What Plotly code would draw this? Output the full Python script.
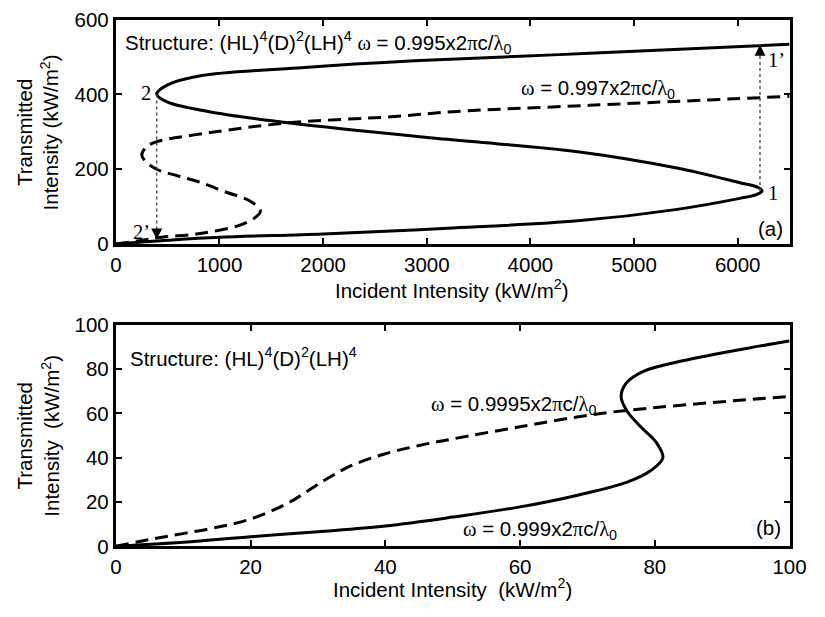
import plotly.graph_objects as go

# ---------------- Panel (a) data ----------------
a_solid_I = [0, 500, 1000, 2000, 3200, 4456, 5400, 6020, 6180, 6235, 6190, 6020, 5400, 4456,
             3200, 1700, 900, 495, 394, 495, 816, 1754, 2880, 4568, 6500]
a_solid_T = [0, 10, 18, 27, 42, 62, 92, 122, 132, 142, 152, 164, 204, 247,
             280, 323, 354, 380, 401, 425, 450, 471, 490, 510, 534]

a_dash_I = [0, 200, 440, 816, 1191, 1340, 1395, 1301, 1050, 816, 600, 394, 290, 250,
            290, 375, 910, 1660, 2692, 3255, 4568, 6500]
a_dash_T = [0, 8, 18, 28, 50, 70, 88, 114, 140, 165, 182, 200, 220, 239,
            258, 272, 298, 324, 341, 354, 371, 395]

a_jump_up_I = [6215, 6215]
a_jump_up_T = [142, 533]
a_jump_down_I = [394, 394]
a_jump_down_T = [400, 12]

a_xticks = [0, 1000, 2000, 3000, 4000, 5000, 6000]
a_yticks = [0, 200, 400, 600]

# ---------------- Panel (b) data ----------------
b_solid_I = [0, 10, 20, 30, 40, 50, 60, 68.7, 75.9, 79.3, 81.2, 80.2, 77.8, 75.9, 75,
             75.7, 78.3, 83, 88, 94, 100]
b_solid_T = [0, 1.8, 4.3, 6.6, 9.2, 13.2, 17.8, 23.2, 29, 34, 40, 47, 54.3, 61, 67.4,
             73.5, 79, 83, 86.2, 89.6, 92.7]

b_dash_I = [0, 5.8, 14, 20, 25.6, 30.9, 35, 40, 45, 50, 60, 72, 85, 100]
b_dash_T = [0, 3.5, 8, 12.3, 19.6, 29.7, 36.5, 41.8, 45.5, 48.5, 54, 60, 64, 67.7]

b_xticks = [0, 20, 40, 60, 80, 100]
b_yticks = [0, 20, 40, 60, 80, 100]

# ---------------- figure ----------------
W, H = 825, 617
SANS = "Liberation Sans, Arial, Helvetica, sans-serif"
SERIF = "Liberation Serif"
FS = 20.5


def px(x):
    return x / W


def py(y):
    return 1 - y / H


def serif(s):
    return "<span style='font-family:%s'>%s</span>" % (SERIF, s)


fig = go.Figure()

line_solid = dict(color="black", width=3, shape="spline")
line_dash = dict(color="black", width=3, dash="13px,7px", shape="spline")
line_dot = dict(color="#555555", width=1.5, dash="dot")

fig.add_trace(go.Scatter(x=a_solid_I, y=a_solid_T, mode="lines", line=line_solid,
                         xaxis="x", yaxis="y", showlegend=False))
fig.add_trace(go.Scatter(x=a_dash_I, y=a_dash_T, mode="lines", line=line_dash,
                         xaxis="x", yaxis="y", showlegend=False))
fig.add_trace(go.Scatter(x=a_jump_up_I, y=a_jump_up_T, mode="lines", line=line_dot,
                         xaxis="x", yaxis="y", showlegend=False))
fig.add_trace(go.Scatter(x=a_jump_down_I, y=a_jump_down_T, mode="lines", line=line_dot,
                         xaxis="x", yaxis="y", showlegend=False))
fig.add_trace(go.Scatter(x=a_jump_up_I[-1:], y=a_jump_up_T[-1:], mode="markers",
                         marker=dict(symbol="arrow-up", size=11, color="black"),
                         xaxis="x", yaxis="y", showlegend=False))
fig.add_trace(go.Scatter(x=a_jump_down_I[-1:], y=a_jump_down_T[-1:], mode="markers",
                         marker=dict(symbol="arrow-down", size=11, color="black"),
                         xaxis="x", yaxis="y", showlegend=False))

fig.add_trace(go.Scatter(x=b_solid_I, y=b_solid_T, mode="lines", line=line_solid,
                         xaxis="x2", yaxis="y2", showlegend=False))
fig.add_trace(go.Scatter(x=b_dash_I, y=b_dash_T, mode="lines", line=line_dash,
                         xaxis="x2", yaxis="y2", showlegend=False))

axis_common = dict(showline=True, linewidth=3, linecolor="black", mirror="ticks",
                   ticks="inside", ticklen=6, tickwidth=2, tickcolor="black",
                   showgrid=False, zeroline=False,
                   tickfont=dict(family=SANS, size=FS, color="black"))

xdom = [113 / W, 806 / W]
fig.update_layout(
    width=W, height=H, margin=dict(l=0, r=0, t=0, b=0),
    paper_bgcolor="white", plot_bgcolor="white",
    xaxis=dict(domain=xdom, range=[0, 6500], tickvals=a_xticks, anchor="y", **axis_common),
    yaxis=dict(domain=[1 - 241 / H, 1 - 8 / H], range=[0, 600], tickvals=a_yticks,
               anchor="x", **axis_common),
    xaxis2=dict(domain=xdom, range=[0, 100], tickvals=b_xticks, anchor="y2", **axis_common),
    yaxis2=dict(domain=[1 - 555 / H, 1 - 325 / H], range=[0, 100], tickvals=b_yticks,
                anchor="x2", **axis_common),
)

ann = []


def add(text, x, y, xanchor="center", yanchor="middle", angle=0, family=SANS, size=FS):
    ann.append(dict(text=text, x=px(x), y=py(y), xref="paper", yref="paper",
                    xanchor=xanchor, yanchor=yanchor, showarrow=False, textangle=angle,
                    font=dict(family=family, size=size, color="black")))


# axis titles
add("Incident Intensity (kW/m<sup>2</sup>)", 459, 288)
add("Incident Intensity  (kW/m<sup>2</sup>)", 459, 598)
add("Transmitted<br>Intensity (kW/m<sup>2</sup>)", 33, 125, angle=-90)
add("Transmitted<br>Intensity  (kW/m<sup>2</sup>)", 33, 440, angle=-90)

# panel (a) texts
add("Structure: (HL)<sup>4</sup>(D)<sup>2</sup>(LH)<sup>4</sup> " + serif("ω") + " = 0.995x2"
    + serif("π") + "c/" + serif("λ") + "<sub>0</sub>", 120, 32, xanchor="left")
add(serif("ω") + " = 0.997x2" + serif("π") + "c/" + serif("λ") + "<sub>0</sub>", 528, 80,
    xanchor="left")
add("(a)", 801, 225, xanchor="right")
add("1", 782, 188, xanchor="left", family=SERIF)
add("1’", 782, 50, xanchor="left", family=SERIF)
add("2", 151, 84, xanchor="right", family=SERIF)
add("2’", 150, 228, xanchor="right", family=SERIF)

# panel (b) texts
add("Structure: (HL)<sup>4</sup>(D)<sup>2</sup>(LH)<sup>4</sup>", 125, 358, xanchor="left")
add(serif("ω") + " = 0.9995x2" + serif("π") + "c/" + serif("λ") + "<sub>0</sub>", 435, 408,
    xanchor="left")
add(serif("ω") + " = 0.999x2" + serif("π") + "c/" + serif("λ") + "<sub>0</sub>", 468, 538,
    xanchor="left")
add("(b)", 799, 535, xanchor="right")

fig.update_layout(annotations=ann)

fig.write_html("out.html")
